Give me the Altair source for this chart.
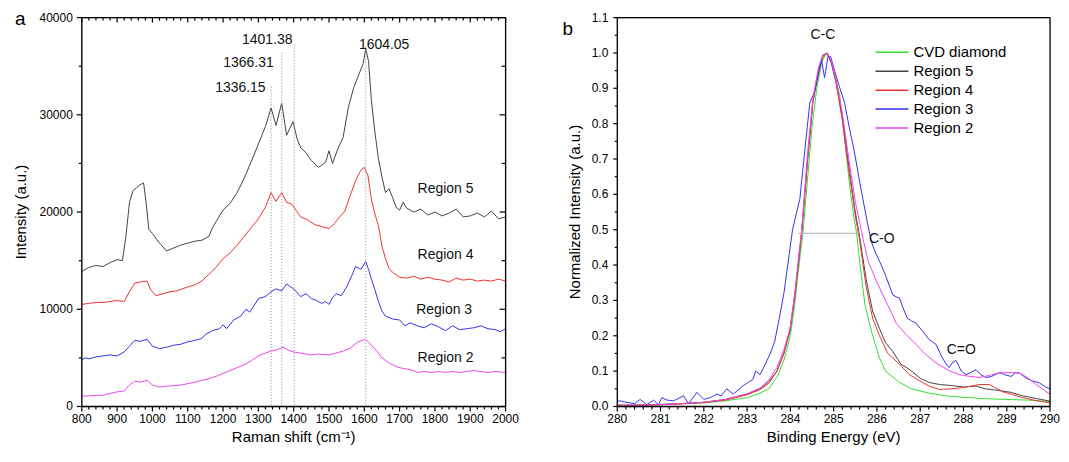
import altair as alt
import pandas as pd

# ---------------- Panel a: Raman spectra ----------------
r5_x = [800, 820, 840, 860, 880, 900, 915, 925, 935, 945, 955, 965, 975, 982, 990, 1000, 1020, 1040, 1060, 1080,
        1100, 1120, 1140, 1160, 1170, 1180, 1200, 1220, 1240, 1260, 1280, 1300, 1320, 1336, 1350, 1366, 1380, 1398,
        1410, 1420, 1435, 1450, 1470, 1490, 1500, 1510, 1525, 1540, 1555, 1570, 1585, 1597, 1604, 1612, 1620, 1630,
        1640, 1650, 1660, 1670, 1680, 1690, 1700, 1710, 1720, 1740, 1760, 1780, 1800, 1820, 1840, 1860, 1880, 1900,
        1920, 1940, 1960, 1980, 2000]
r5_y = [13900, 14300, 14500, 14400, 14800, 15100, 15000, 17500, 21000, 22200, 22500, 22800, 23000, 21000, 18200,
        17800, 16800, 16000, 16300, 16600, 16800, 17000, 17100, 17500, 18400, 19000, 20200, 20900, 22000, 23500,
        25200, 27000, 28800, 30700, 28900, 31200, 27900, 29300, 27500, 26600, 26100, 25300, 24600, 25100, 26300,
        25000, 26500, 27700, 30800, 32800, 34200, 35300, 36800, 35500, 31500, 28200, 25500, 23600, 22000, 22400,
        21500, 20500, 20200, 21000, 20400, 20000, 20300, 19700, 20000, 19600, 19900, 20300, 19500, 19600, 19900,
        19500, 20100, 19300, 19500]

r4_x = [800, 820, 840, 860, 880, 900, 920, 935, 950, 965, 985, 995, 1010, 1030, 1050, 1070, 1100, 1120, 1140, 1160,
        1180, 1200, 1220, 1240, 1260, 1280, 1300, 1320, 1336, 1350, 1366, 1380, 1395, 1410, 1420, 1440, 1460, 1480,
        1500, 1515, 1530, 1545, 1560, 1575, 1590, 1600, 1610, 1620, 1630, 1640, 1650, 1660, 1670, 1680, 1700, 1720,
        1740, 1760, 1780, 1800, 1820, 1840, 1860, 1880, 1900, 1920, 1940, 1960, 1980, 2000]
r4_y = [10500, 10600, 10700, 10700, 10800, 10900, 10800, 11800, 12700, 12800, 12900, 12000, 11400, 11600, 11800,
        11900, 12300, 12500, 12900, 13600, 14300, 15200, 15800, 16600, 17500, 18400, 19300, 20500, 22000, 21100,
        22000, 21000, 20800, 20000, 19500, 19200, 18700, 18500, 18300, 18800, 19500, 20100, 21700, 23200, 24300,
        24600, 23800, 21300, 19800, 18600, 16500, 15200, 14200, 13800, 13300, 13200, 13400, 13100, 13300, 13100,
        13000, 12800, 13200, 13000, 13100, 12900, 13000, 12900, 13100, 12900]

r3_x = [800, 810, 820, 840, 860, 880, 900, 920, 935, 950, 965, 985, 1000, 1020, 1040, 1060, 1080, 1100, 1120, 1140,
        1150, 1170, 1190, 1200, 1210, 1230, 1250, 1265, 1275, 1290, 1300, 1320, 1336, 1350, 1366, 1380, 1400, 1420,
        1435, 1450, 1465, 1480, 1490, 1500, 1510, 1520, 1535, 1550, 1565, 1575, 1590, 1604, 1612, 1620, 1630, 1640,
        1650, 1660, 1680, 1700, 1715, 1730, 1750, 1770, 1790, 1810, 1830, 1850, 1870, 1890, 1910, 1930, 1950, 1970,
        1985, 2000]
r3_y = [4800, 5000, 4900, 5100, 5200, 5300, 5200, 5600, 6200, 6800, 6700, 6900, 6200, 5950, 6100, 6300, 6400, 6650,
        6800, 7000, 7400, 7800, 8000, 8400, 8000, 8900, 9300, 10000, 9700, 10500, 11100, 11300, 11800, 12100, 11900,
        12600, 12100, 11300, 11600, 11100, 10900, 10600, 10800, 10500, 11200, 11600, 11400, 12300, 13500, 14400,
        14100, 14900, 14100, 13100, 12000, 10800, 9800, 9300, 9000, 8900, 8300, 8600, 8300, 8100, 8500, 8200, 7800,
        8300, 7900, 8000, 8100, 8300, 8000, 7900, 7700, 8000]

r2_x = [800, 820, 840, 860, 880, 900, 920, 935, 950, 965, 985, 1000, 1020, 1040, 1060, 1080, 1100, 1120, 1140, 1160,
        1180, 1200, 1220, 1240, 1260, 1280, 1300, 1320, 1336, 1350, 1370, 1385, 1400, 1420, 1450, 1470, 1500, 1520,
        1540, 1560, 1580, 1600, 1610, 1620, 1635, 1650, 1670, 1690, 1710, 1730, 1750, 1770, 1790, 1810, 1830, 1850,
        1870, 1890, 1910, 1930, 1950, 1970, 2000]
r2_y = [1050, 1100, 1150, 1150, 1350, 1500, 1600, 2200, 2600, 2500, 2700, 2200, 2000, 2100, 2150, 2200, 2350, 2500,
        2700, 2850, 3100, 3400, 3700, 4000, 4300, 4700, 5200, 5500, 5700, 5800, 6100, 5800, 5600, 5500, 5300, 5400,
        5300, 5500, 5700, 6000, 6600, 6900, 6700, 6300, 5700, 5000, 4500, 4100, 3900, 3800, 3500, 3600, 3500, 3600,
        3500, 3600, 3500, 3600, 3700, 3600, 3500, 3600, 3500]

peak_pos = [1336.15, 1366.31, 1401.38, 1604.05]
peak_top = [32900, 36400, 37200, 37000]
peak_text = ["1336.15", "1366.31", "1401.38", "1604.05"]
peak_text_x = [1249, 1272, 1325, 1656]
peak_text_y = [32300, 34900, 37250, 36750]

region_names = ["Region 5", "Region 4", "Region 3", "Region 2"]
region_label_x = [1830, 1830, 1826, 1830]
region_label_y = [22400, 15600, 9950, 5000]

# ---------------- Panel b: XPS C1s ----------------
cvd_x = [280, 281, 282, 282.5, 283, 283.3, 283.5, 283.7, 283.85, 284.0, 284.1, 284.2, 284.29, 284.38, 284.5, 284.61,
         284.72, 284.82, 284.92, 285.02, 285.14, 285.25, 285.37, 285.45, 285.53, 285.62, 285.72, 285.88, 286.05, 286.2,
         286.5, 286.8, 287.2, 287.6, 288, 288.5, 289, 289.5, 290]
cvd_y = [0.003, 0.005, 0.01, 0.016, 0.025, 0.038, 0.05, 0.085, 0.13, 0.2, 0.29, 0.4, 0.49, 0.62, 0.79, 0.9, 0.97, 1.0,
         0.98, 0.94, 0.88, 0.76, 0.625, 0.55, 0.49, 0.39, 0.29, 0.21, 0.14, 0.1, 0.07, 0.05, 0.038, 0.03, 0.026, 0.022,
         0.02, 0.018, 0.014]

b5_x = [280, 280.5, 281, 281.5, 282, 282.5, 283, 283.3, 283.5, 283.69, 283.85, 283.99, 284.1, 284.26, 284.4, 284.52,
        284.65, 284.75, 284.85, 284.95, 285.05, 285.2, 285.35, 285.5, 285.6, 285.75, 285.9, 286.06, 286.2, 286.37,
        286.55, 286.75, 287.0, 287.21, 287.45, 287.67, 288.0, 288.29, 288.5, 288.83, 289.1, 289.37, 289.7, 290]
b5_y = [0.004, 0.003, 0.006, 0.008, 0.012, 0.02, 0.035, 0.05, 0.07, 0.1, 0.15, 0.214, 0.31, 0.49, 0.7, 0.86, 0.95,
        0.99, 1.0, 0.97, 0.92, 0.82, 0.68, 0.55, 0.48, 0.36, 0.27, 0.22, 0.18, 0.155, 0.12, 0.105, 0.08, 0.068, 0.062,
        0.06, 0.055, 0.058, 0.05, 0.045, 0.04, 0.03, 0.022, 0.015]

b4_x = [280, 281, 282, 282.5, 283, 283.3, 283.5, 283.69, 283.85, 283.99, 284.1, 284.26, 284.4, 284.52, 284.65, 284.75,
        284.85, 284.95, 285.05, 285.2, 285.35, 285.5, 285.6, 285.75, 285.9, 286.06, 286.25, 286.52, 286.75, 286.98,
        287.2, 287.44, 287.7, 287.9, 288.15, 288.36, 288.6, 288.9, 289.1, 289.37, 289.7, 290]
b4_y = [0.003, 0.005, 0.011, 0.018, 0.033, 0.048, 0.065, 0.1, 0.15, 0.214, 0.31, 0.49, 0.7, 0.86, 0.95, 0.99, 1.0,
        0.97, 0.92, 0.81, 0.67, 0.54, 0.47, 0.34, 0.25, 0.2, 0.15, 0.12, 0.09, 0.073, 0.058, 0.048, 0.05, 0.052, 0.057,
        0.062, 0.062, 0.042, 0.035, 0.025, 0.016, 0.01]

b3_x = [280, 280.07, 280.2, 280.4, 280.53, 280.68, 280.84, 280.95, 281.03, 281.15, 281.3, 281.53, 281.65, 281.84, 282.0,
        282.15, 282.3, 282.4, 282.53, 282.68, 282.9, 283.05, 283.13, 283.2, 283.3, 283.42, 283.53, 283.64, 283.76,
        283.85, 283.94, 284.05, 284.22, 284.33, 284.45, 284.56, 284.65, 284.72, 284.79, 284.87, 284.93, 285.02, 285.12,
        285.25, 285.36, 285.48, 285.58, 285.67, 285.78, 285.87, 285.95, 286.1, 286.2, 286.37, 286.45, 286.52, 286.6,
        286.7, 286.8, 286.9, 287.05, 287.2, 287.37, 287.5, 287.6, 287.67, 287.75, 287.83, 287.95, 288.06, 288.15,
        288.29, 288.4, 288.52, 288.65, 288.83, 288.95, 289.1, 289.2, 289.29, 289.45, 289.6, 289.75, 289.9, 290]
b3_y = [0.015, 0.016, 0.012, 0.008, 0.02, 0.005, 0.018, 0.005, 0.025, 0.018, 0.016, 0.03, 0.008, 0.04, 0.02, 0.025,
        0.035, 0.03, 0.05, 0.035, 0.058, 0.07, 0.076, 0.1, 0.09, 0.12, 0.148, 0.185, 0.26, 0.32, 0.4, 0.5, 0.588, 0.72,
        0.86, 0.89, 0.94, 0.98, 0.93, 0.99, 0.99, 0.95, 0.91, 0.86, 0.79, 0.72, 0.65, 0.59, 0.52, 0.467, 0.44, 0.4,
        0.37, 0.315, 0.31, 0.307, 0.28, 0.25, 0.242, 0.236, 0.214, 0.19, 0.175, 0.14, 0.12, 0.11, 0.125, 0.13, 0.1,
        0.09, 0.095, 0.104, 0.09, 0.082, 0.085, 0.096, 0.09, 0.085, 0.095, 0.095, 0.08, 0.072, 0.067, 0.055, 0.05]

b2_x = [280, 281, 282, 282.5, 283, 283.3, 283.5, 283.69, 283.85, 283.99, 284.1, 284.26, 284.4, 284.52, 284.65, 284.75,
        284.85, 284.95, 285.05, 285.2, 285.35, 285.5, 285.65, 285.8, 285.99, 286.2, 286.45, 286.7, 286.91, 287.1, 287.4,
        287.7, 287.9, 288.15, 288.36, 288.6, 288.83, 289.05, 289.29, 289.5, 289.68, 289.85, 290]
b2_y = [0.003, 0.005, 0.012, 0.02, 0.036, 0.052, 0.075, 0.11, 0.16, 0.22, 0.32, 0.5, 0.72, 0.87, 0.96, 0.995, 1.0,
        0.975, 0.93, 0.83, 0.7, 0.58, 0.49, 0.41, 0.354, 0.3, 0.235, 0.2, 0.175, 0.15, 0.12, 0.1, 0.09, 0.085, 0.082,
        0.088, 0.095, 0.096, 0.095, 0.08, 0.062, 0.048, 0.034]

fwhm_start = [284.18]
fwhm_end = [285.57]
fwhm_level = [0.49]

bond_labels = ["C-C", "C-O", "C=O"]
bond_x = [284.75, 286.11, 287.95]
bond_y = [1.052, 0.475, 0.16]

series_order = ["CVD diamond", "Region 5", "Region 4", "Region 3", "Region 2"]
series_colors = ["#33dd33", "#444444", "#ee3333", "#3333ee", "#ee44ee"]

# tick values and tick labels
a_x_major = list(range(800, 2001, 100))
a_x_minor = [v for v in range(800, 2001, 20) if v % 100]
a_y_major = list(range(0, 40001, 10000))
a_y_minor = list(range(5000, 40000, 10000))
b_x_major = list(range(280, 291))
b_x_minor = [round(280 + 0.2 * i, 1) for i in range(51) if i % 5]
b_y_major = [round(0.1 * i, 1) for i in range(12)]
b_y_minor = [round(0.05 + 0.1 * i, 2) for i in range(11)]
a_x_labels = [str(v) for v in a_x_major]
a_y_labels = [str(v) for v in a_y_major]
b_x_labels = [str(v) for v in b_x_major]
b_y_labels = [f"{v:.1f}" for v in b_y_major]

axis_titles_a = ["Raman shift (cm⁻¹)", "Intensity (a.u.)"]
axis_titles_b = ["Binding Energy (eV)", "Normalized Intensity (a.u.)"]

# ---------------- tables ----------------
def long_table(items, xname, yname):
    rows = []
    for name, xs, ys in items:
        for x, y in zip(xs, ys):
            rows.append({"series": name, xname: x, yname: y})
    return pd.DataFrame(rows)

df_a = long_table([("Region 5", r5_x, r5_y), ("Region 4", r4_x, r4_y),
                   ("Region 3", r3_x, r3_y), ("Region 2", r2_x, r2_y)], "shift", "intensity")
df_b = long_table([("CVD diamond", cvd_x, cvd_y), ("Region 5", b5_x, b5_y), ("Region 4", b4_x, b4_y),
                   ("Region 3", b3_x, b3_y), ("Region 2", b2_x, b2_y)], "energy", "norm")
df_peaks = pd.DataFrame({"pos": peak_pos, "top": peak_top})
df_peak_text = pd.DataFrame({"t": peak_text, "px": peak_text_x, "py": peak_text_y})
df_regions = pd.DataFrame({"t": region_names, "px": region_label_x, "py": region_label_y})
df_fwhm = pd.DataFrame({"x1": fwhm_start, "x2": fwhm_end, "lvl": fwhm_level})
df_bonds = pd.DataFrame({"t": bond_labels, "px": bond_x, "py": bond_y})
one_row = pd.DataFrame({"k": [0]})

FONT = "Liberation Sans"
W_A, W_B, H = 425, 434, 390
TITLE_BASE = 36

color_scale = alt.Scale(domain=series_order, range=series_colors)


def ticks_x(values, scale, y1, y2):
    return alt.Chart(pd.DataFrame({"v": values})).mark_rule(color="#000000", strokeWidth=1.2).encode(
        x=alt.X("v:Q", scale=scale, axis=None), y=alt.value(y1), y2=alt.value(y2))


def ticks_y(values, scale, x1, x2):
    return alt.Chart(pd.DataFrame({"v": values})).mark_rule(color="#000000", strokeWidth=1.2).encode(
        y=alt.Y("v:Q", scale=scale, axis=None), x=alt.value(x1), x2=alt.value(x2))


def labels_x(values, labels, scale):
    return alt.Chart(pd.DataFrame({"v": values, "t": labels})).mark_text(
        font=FONT, fontSize=12, color="black", align="center", baseline="top").encode(
        x=alt.X("v:Q", scale=scale, axis=None), y=alt.value(H + 8), text="t:N")


def labels_y(values, labels, scale):
    return alt.Chart(pd.DataFrame({"v": values, "t": labels})).mark_text(
        font=FONT, fontSize=12, color="black", align="right", baseline="middle").encode(
        y=alt.Y("v:Q", scale=scale, axis=None), x=alt.value(-9), text="t:N")


def titles(names, w, ytitle_x):
    xt = alt.Chart(pd.DataFrame({"t": [names[0]]})).mark_text(
        font=FONT, fontSize=15, color="black", align="center", baseline="alphabetic").encode(
        x=alt.value(w / 2), y=alt.value(H + TITLE_BASE), text="t:N")
    yt = alt.Chart(pd.DataFrame({"t": [names[1]]})).mark_text(
        font=FONT, fontSize=15, color="black", align="center", baseline="alphabetic", angle=270).encode(
        x=alt.value(ytitle_x), y=alt.value(H / 2), text="t:N")
    return [xt, yt]


def frame(w, h):
    base = alt.Chart(one_row).mark_rule(color="#000000", strokeWidth=1.3)
    return [
        base.encode(x=alt.value(0), x2=alt.value(w), y=alt.value(0)),
        base.encode(x=alt.value(0), x2=alt.value(w), y=alt.value(h)),
        base.encode(x=alt.value(0), y=alt.value(0), y2=alt.value(h)),
        base.encode(x=alt.value(w), y=alt.value(0), y2=alt.value(h)),
    ]


def letter(ch, x, y):
    return alt.Chart(pd.DataFrame({"t": [ch]})).mark_text(font=FONT, fontSize=19, color="black", align="left",
                                                          baseline="alphabetic").encode(
        x=alt.value(x), y=alt.value(y), text="t:N")


# ---- panel a ----
xa = alt.Scale(domain=[800, 2000], nice=False, zero=False)
ya = alt.Scale(domain=[0, 40000], nice=False)

lines_a = alt.Chart(df_a).mark_line(strokeWidth=1).encode(
    x=alt.X("shift:Q", scale=xa, axis=None),
    y=alt.Y("intensity:Q", scale=ya, axis=None),
    color=alt.Color("series:N", scale=color_scale, legend=None),
)
rules_a = alt.Chart(df_peaks).mark_rule(strokeDash=[1, 2], color="#888888", strokeWidth=1).encode(
    x=alt.X("pos:Q", scale=xa, axis=None),
    y=alt.Y("top:Q", scale=ya, axis=None),
    y2=alt.datum(0),
)
regions_a = alt.Chart(df_regions).mark_text(font=FONT, fontSize=14, color="#111111", align="center",
                                             baseline="middle").encode(
    x=alt.X("px:Q", scale=xa, axis=None), y=alt.Y("py:Q", scale=ya, axis=None), text="t:N")
peaks_text_a = alt.Chart(df_peak_text).mark_text(font=FONT, fontSize=14, color="#111111", align="center",
                                                  baseline="alphabetic").encode(
    x=alt.X("px:Q", scale=xa, axis=None), y=alt.Y("py:Q", scale=ya, axis=None), text="t:N")

panel_a = alt.layer(
    lines_a, rules_a, regions_a, peaks_text_a,
    ticks_x(a_x_major, xa, H, H + 5), ticks_x(a_x_minor, xa, H, H + 3),
    ticks_x(a_x_major, xa, 0, 5), ticks_x(a_x_minor, xa, 0, 3),
    ticks_y(a_y_major, ya, 0, -5), ticks_y(a_y_minor, ya, 0, -3),
    ticks_y(a_y_major, ya, W_A, W_A - 6), ticks_y(a_y_minor, ya, W_A, W_A - 4),
    labels_x(a_x_major, a_x_labels, xa), labels_y(a_y_major, a_y_labels, ya),
    *titles(axis_titles_a, W_A, -56),
    *frame(W_A, H), letter("a", -67, 7),
).properties(width=W_A, height=H)

# ---- panel b ----
xb = alt.Scale(domain=[280, 290], nice=False, zero=False)
yb = alt.Scale(domain=[0, 1.1], nice=False)

lines_b = alt.Chart(df_b).mark_line(strokeWidth=1).encode(
    x=alt.X("energy:Q", scale=xb, axis=None),
    y=alt.Y("norm:Q", scale=yb, axis=None),
    color=alt.Color("series:N", scale=color_scale, sort=series_order,
                    legend=alt.Legend(orient="none", legendX=258, legendY=26.5, title=None, symbolType="stroke",
                                      symbolSize=1089, symbolStrokeWidth=1.5, labelFont=FONT, labelFontSize=15,
                                      labelColor="black", labelOffset=4, clipHeight=16.5, rowPadding=2,
                                      padding=0)),
)
fwhm_b = alt.Chart(df_fwhm).mark_rule(color="#aaaaaa", strokeWidth=1).encode(
    x=alt.X("x1:Q", scale=xb, axis=None), x2="x2:Q", y=alt.Y("lvl:Q", scale=yb, axis=None))
bonds_b = alt.Chart(df_bonds).mark_text(font=FONT, fontSize=14, color="#111111", align="center",
                                         baseline="middle").encode(
    x=alt.X("px:Q", scale=xb, axis=None), y=alt.Y("py:Q", scale=yb, axis=None), text="t:N")

panel_b = alt.layer(
    lines_b, fwhm_b, bonds_b,
    ticks_x(b_x_major, xb, H, H + 5), ticks_x(b_x_minor, xb, H, H + 3),
    ticks_y(b_y_major, yb, 0, -4), ticks_y(b_y_minor, yb, 0, -2.5),
    labels_x(b_x_major, b_x_labels, xb), labels_y(b_y_major, b_y_labels, yb),
    *titles(axis_titles_b, W_B, -37),
    *frame(W_B, H), letter("b", -55, 17),
).properties(width=W_B, height=H)

chart = alt.hconcat(panel_a, panel_b, spacing=112, bounds="flush").resolve_scale(color="independent").properties(
    padding={"left": 5, "top": 0, "right": 0, "bottom": 0}
).configure_view(stroke=None).configure(font=FONT)

chart.save("out.html", embed_options={"renderer": "svg", "actions": False})
